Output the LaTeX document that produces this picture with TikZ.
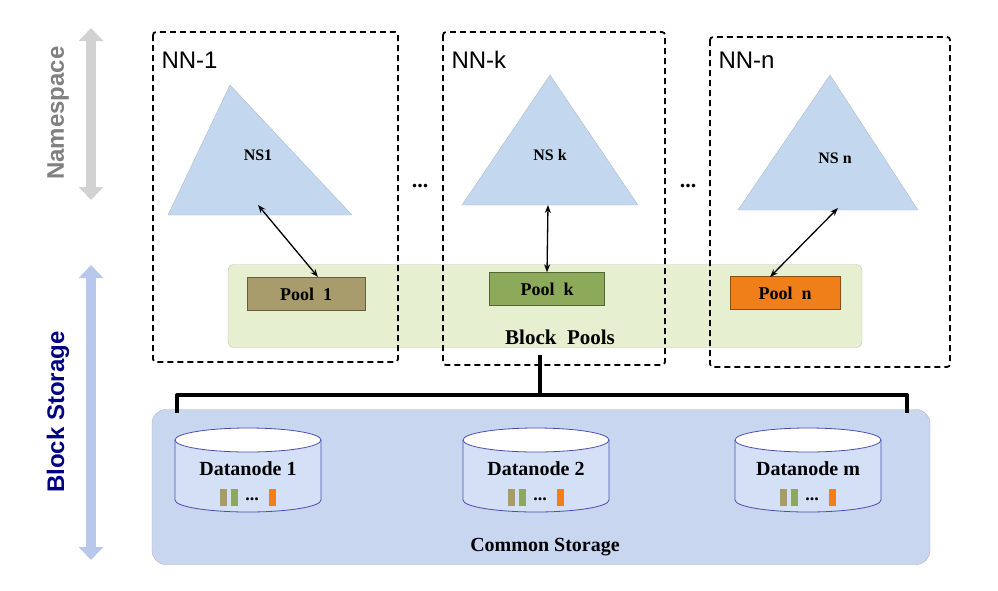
\documentclass[tikz,border=0pt]{standalone}
\usepackage{fontspec}
\setmainfont{Liberation Serif}
\newfontfamily\sansf{Liberation Sans}
\usetikzlibrary{shapes.geometric,arrows.meta}
\definecolor{tri}{HTML}{C3D7EE}
\definecolor{bp}{HTML}{E6EFCF}
\definecolor{cs}{HTML}{C9D6F0}
\definecolor{pa}{HTML}{A89C6C}
\definecolor{pb}{HTML}{8DAA5A}
\definecolor{pc}{HTML}{F07F1A}
\definecolor{cyl}{HTML}{D4E0F6}
\definecolor{bsa}{HTML}{B8C8EC}
\newcommand{\fs}[1]{\fontsize{#1}{#1}\selectfont}
\begin{document}
\begin{tikzpicture}[x=1pt,y=-1pt,
 nn/.style={draw,dash pattern=on 6pt off 4pt,line width=1.8pt,rounded corners=3pt},
 tri/.style={fill=tri,draw=tri!70!gray},
 pool/.style={draw=#1!60!black,fill=#1,minimum height=33pt,font=\bfseries\fs{18},inner sep=0pt},
 bi/.style={{Stealth[length=8pt]}-{Stealth[length=8pt]},line width=1.3pt},
 bar/.style={fill=#1,minimum width=7pt,minimum height=17pt,inner sep=0pt}]
\useasboundingbox (0,0) rectangle (998,590);
% side arrows
\draw[line width=10pt,gray!35,{Triangle[length=13pt,width=24pt]}-{Triangle[length=13pt,width=24pt]}] (91,28) -- (91,200);
\node[rotate=90,font=\sansf\bfseries\fs{24},text=gray] (lns) at (58,113) {Namespace};
\draw[line width=10pt,bsa,{Triangle[length=13pt,width=24pt]}-{Triangle[length=13pt,width=24pt]}] (91,265) -- (91,560);
\node[rotate=90,font=\sansf\bfseries\fs{24},text=blue!50!black] (lbs) at (58,412) {Block Storage};
% block pools
\node[draw=gray!50,fill=bp,rounded corners=6pt,minimum width=634pt,minimum height=83pt] (bpool) at (545,306) {};
\node[font=\bfseries\fs{21}] (bpl) at (560,337) {Block\ \ Pools};
% NN boxes
\draw[nn] (153,32) rectangle (398,362);
\draw[nn] (443,32) rectangle (665,365);
\draw[nn] (710,37) rectangle (950,367);
\node[font=\sansf\fs{24},anchor=west] (nn1) at (158,60) {NN-1};
\node[font=\sansf\fs{24},anchor=west] (nnk) at (448,60) {NN-k};
\node[font=\sansf\fs{24},anchor=west] (nnn) at (715,60) {NN-n};
% triangles
\draw[tri] (230,85) -- (352,215) -- (168,215) -- cycle;
\draw[tri] (550,75) -- (638,205) -- (462,205) -- cycle;
\draw[tri] (830,75) -- (918,210) -- (738,210) -- cycle;
\node[font=\bfseries\fs{16}] (ns1) at (258,155) {NS1};
\node[font=\bfseries\fs{16}] (nsk) at (550,155) {NS k};
\node[font=\bfseries\fs{16}] (nsn) at (835,158) {NS n};
\coordinate (t1) at (258,205);
\coordinate (tk) at (548,205);
\coordinate (tn) at (838,208);
% pools
\node[pool=pa,minimum width=118pt] (p1) at (306,294) {Pool\ \ 1};
\node[pool=pb,minimum width=115pt] (pk) at (547,289) {Pool\ \ k};
\node[pool=pc,minimum width=110pt] (pn) at (785,293) {Pool\ \ n};
\draw[bi] (t1) -- (318,277);
\draw[bi] (tk) -- (pk.north);
\draw[bi] (tn) -- (770,277);
\node[font=\bfseries\fs{22}] (d1) at (420,186) {...};
\node[font=\bfseries\fs{22}] (d2) at (688,186) {...};
% common storage
\node[draw=gray!60,fill=cs,rounded corners=14pt,minimum width=778pt,minimum height=155pt] (cs) at (541,487) {};
\node[font=\bfseries\fs{20}] (csl) at (545,547) {Common Storage};
\coordinate (bt) at (540,355);
\draw[line width=4pt,line join=round] (bt) -- (540,395) (177,413) -- (177,395) -- (907,395) -- (907,413);
% datanodes
\foreach \x/\n/\t in {248/a/1,536/b/2,808/c/m}{
 \draw[draw=blue!40!gray,fill=cyl,line width=0.8pt] (\x-73,440) -- (\x-73,500) arc[start angle=180,end angle=360,x radius=73pt,y radius=12pt] -- (\x+73,440);
 \draw[draw=blue!40!gray,fill=white,line width=0.8pt] (\x,440) ellipse[x radius=73pt,y radius=12pt];
 \node[font=\bfseries\fs{20},inner sep=1pt] (dt\n) at (\x,469) {Datanode \t};
 \node[bar=pa] (ba\n) at (\x-25,497) {};
 \node[bar=pb] (bb\n) at (\x-14,497) {};
 \node[font=\bfseries\fs{18},inner sep=1pt] (bd\n) at (\x+4,499) {...};
 \node[bar=pc] (bc\n) at (\x+24,497) {};
}
\end{tikzpicture}
\end{document}
